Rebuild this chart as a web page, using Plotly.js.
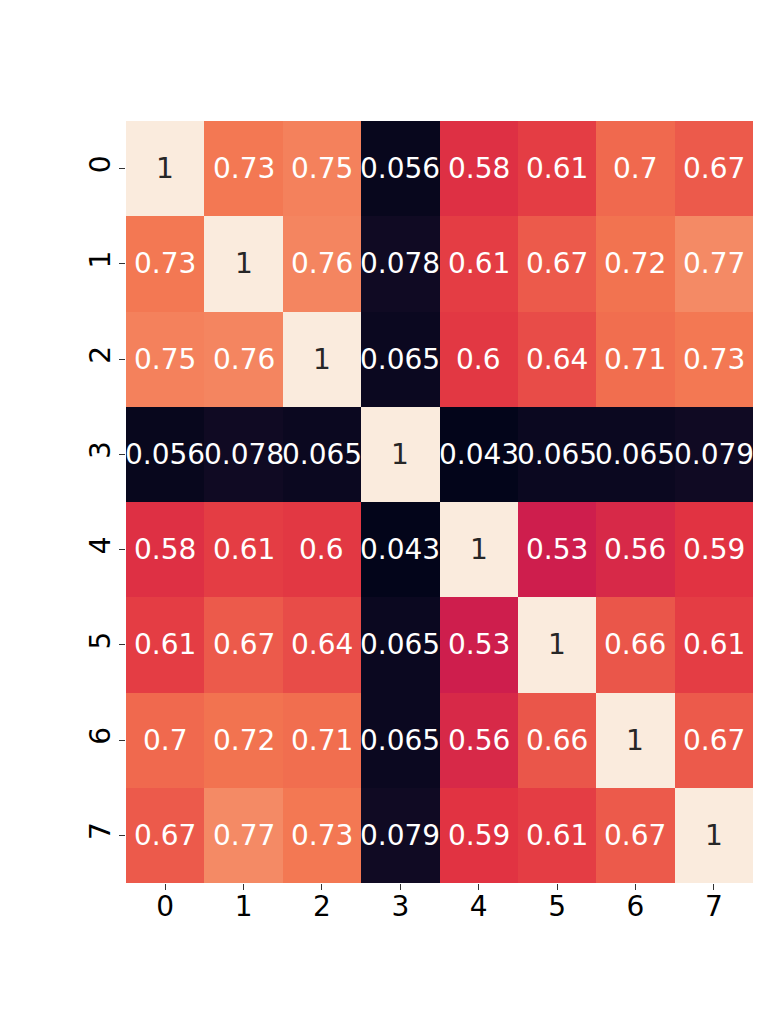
<!DOCTYPE html>
<html>
<head>
<meta charset="utf-8">
<script src="https://cdn.plot.ly/plotly-3.0.1.min.js"></script>
<style>
  body { margin: 0; background: #fff; }
  #chart { width: 778px; height: 1010px; }
</style>
</head>
<body>
<div id="chart"></div>
<script>
var labels = ['0', '1', '2', '3', '4', '5', '6', '7'];

var row0 = [1, 0.73, 0.75, 0.056, 0.58, 0.61, 0.7, 0.67];
var row1 = [0.73, 1, 0.76, 0.078, 0.61, 0.67, 0.72, 0.77];
var row2 = [0.75, 0.76, 1, 0.065, 0.6, 0.64, 0.71, 0.73];
var row3 = [0.056, 0.078, 0.065, 1, 0.043, 0.065, 0.065, 0.079];
var row4 = [0.58, 0.61, 0.6, 0.043, 1, 0.53, 0.56, 0.59];
var row5 = [0.61, 0.67, 0.64, 0.065, 0.53, 1, 0.66, 0.61];
var row6 = [0.7, 0.72, 0.71, 0.065, 0.56, 0.66, 1, 0.67];
var row7 = [0.67, 0.77, 0.73, 0.079, 0.59, 0.61, 0.67, 1];

var corr = [row0, row1, row2, row3, row4, row5, row6, row7];

// seaborn "rocket"
var rocket = [
  [0, '#03051a'],
  [0.143, '#35193e'],
  [0.286, '#701f57'],
  [0.429, '#ad1759'],
  [0.5, '#cb1b4f'],
  [0.571, '#e13342'],
  [0.714, '#f37651'],
  [0.857, '#f6b48f'],
  [1, '#faebdd']
];

function fmt(v){
  return String(Number(v.toPrecision(2)));
}

var annotations = [];
for(var i = 0; i < corr.length; i++){
  for(var j = 0; j < corr[i].length; j++){
    var v = corr[i][j];
    annotations.push({
      x: labels[j], y: labels[i], text: fmt(v),
      showarrow: false,
      font: {family: 'DejaVu Sans', size: 28, color: v > 0.9 ? '#262626' : '#ffffff'}
    });
  }
}

var trace = {
  z: corr,
  x: labels,
  y: labels,
  type: 'heatmap',
  colorscale: rocket,
  showscale: false,
  xgap: 0, ygap: 0
};

var layout = {
  width: 778,
  height: 1010,
  margin: {l: 126, r: 25, t: 121, b: 127, autoexpand: false},
  paper_bgcolor: '#fff',
  plot_bgcolor: '#fff',
  font: {family: 'DejaVu Sans', size: 28, color: '#000'},
  xaxis: {
    type: 'category',
    range: [-0.5, labels.length - 0.5],
    automargin: false,
    showgrid: false, zeroline: false, showline: false,
    ticks: 'outside', ticklen: 6, tickwidth: 1.4, tickcolor: '#333',
    ticklabelstandoff: -8,
    tickfont: {size: 28}
  },
  yaxis: {
    type: 'category',
    range: [labels.length - 0.5, -0.5],
    automargin: false,
    showgrid: false, zeroline: false, showline: false,
    ticks: 'outside', ticklen: 6, tickwidth: 1.4, tickcolor: '#333',
    tickangle: -90,
    ticklabelstandoff: -2,
    tickfont: {size: 28}
  },
  annotations: annotations
};

Plotly.newPlot('chart', [trace], layout, {displayModeBar: false});
</script>
</body>
</html>
